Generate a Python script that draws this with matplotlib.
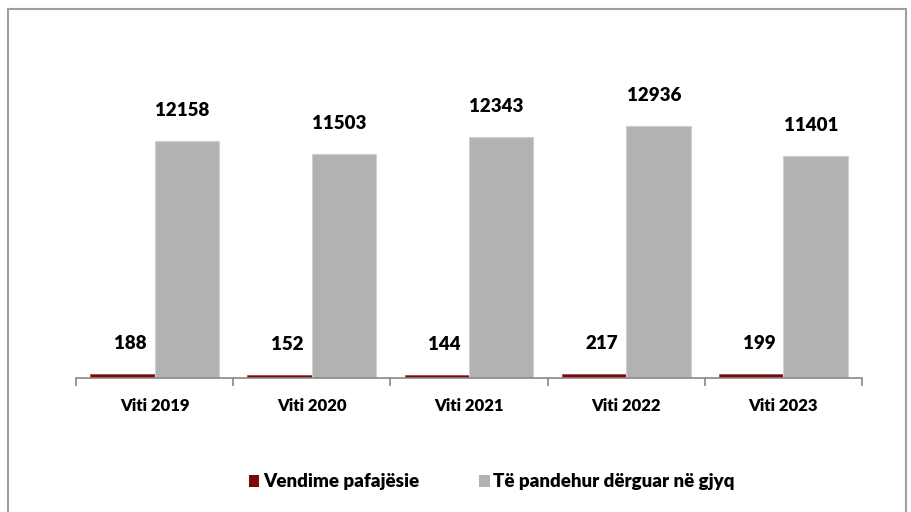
import matplotlib
matplotlib.use("Agg")
import matplotlib.pyplot as plt
import matplotlib.transforms as mtrans
import numpy as np
from matplotlib.patches import Rectangle

categories = ["Viti 2019", "Viti 2020", "Viti 2021", "Viti 2022", "Viti 2023"]
vendime = [188, 152, 144, 217, 199]
te_pandehur = [12158, 11503, 12343, 12936, 11401]
series_names = ["Vendime pafajësie", "Të pandehur dërguar në gjyq"]

plt.rcParams['font.family'] = ['Lato', 'DejaVu Sans']

fig = plt.figure(figsize=(9.12, 5.12), dpi=100)
ax = fig.add_axes([76/912, 1-378/512, (862-76)/912, (378-105)/512])

x = np.arange(len(categories))
w = 0.41
b1 = ax.bar(x - w/2, vendime, w, color="#7A0A0A", edgecolor="#A04040", linewidth=0.5, label=series_names[0])
b2 = ax.bar(x + w/2, te_pandehur, w, color="#B2B2B2", edgecolor="#D0D0D0", linewidth=0.8, label=series_names[1])

for bars, vals, dx in ((b1, vendime, 0.05), (b2, te_pandehur, -0.03)):
    for r, v in zip(bars, vals):
        ax.annotate(f"{v}", (r.get_x() + r.get_width()/2 + dx, r.get_height()),
                    xytext=(0, 22), textcoords="offset points", ha="center", va="center",
                    fontsize=13.5, fontweight="heavy", color="black")

ax.set_xlim(-0.5, len(categories) - 0.5)
ax.set_ylim(0, 14000)
for s in ("top", "right", "left"):
    ax.spines[s].set_visible(False)
ax.spines["bottom"].set_color("#888888")
ax.spines["bottom"].set_linewidth(1.2)
ax.set_yticks([])
ax.set_xticks(np.arange(len(categories) + 1) - 0.5)
ax.set_xticklabels([])
ax.tick_params(axis="x", direction="out", length=6, color="#888888", width=1.2)
off = mtrans.ScaledTranslation(0, -28/100, fig.dpi_scale_trans)
for xi, c in zip(x, categories):
    ax.text(xi, 0, c, transform=ax.transData + off,
            ha="center", va="center", fontsize=12, fontweight="heavy")

leg = fig.legend(handles=[b1, b2], labels=series_names, loc="center", bbox_to_anchor=(492/912, 1-482/512),
                 ncol=2, frameon=False, handlelength=0.55, handleheight=0.55, handletextpad=0.2,
                 columnspacing=3.2, prop={"weight": "heavy", "size": 13.5})
for h in leg.legend_handles:
    h.set_edgecolor("none")

fig.patches.append(Rectangle((8/912, -0.05), (906-8)/912, 1.05 - 9/512, transform=fig.transFigure,
                             fill=False, edgecolor="#A0A0A0", linewidth=1.5))

fig.savefig("out.png", dpi=100)
